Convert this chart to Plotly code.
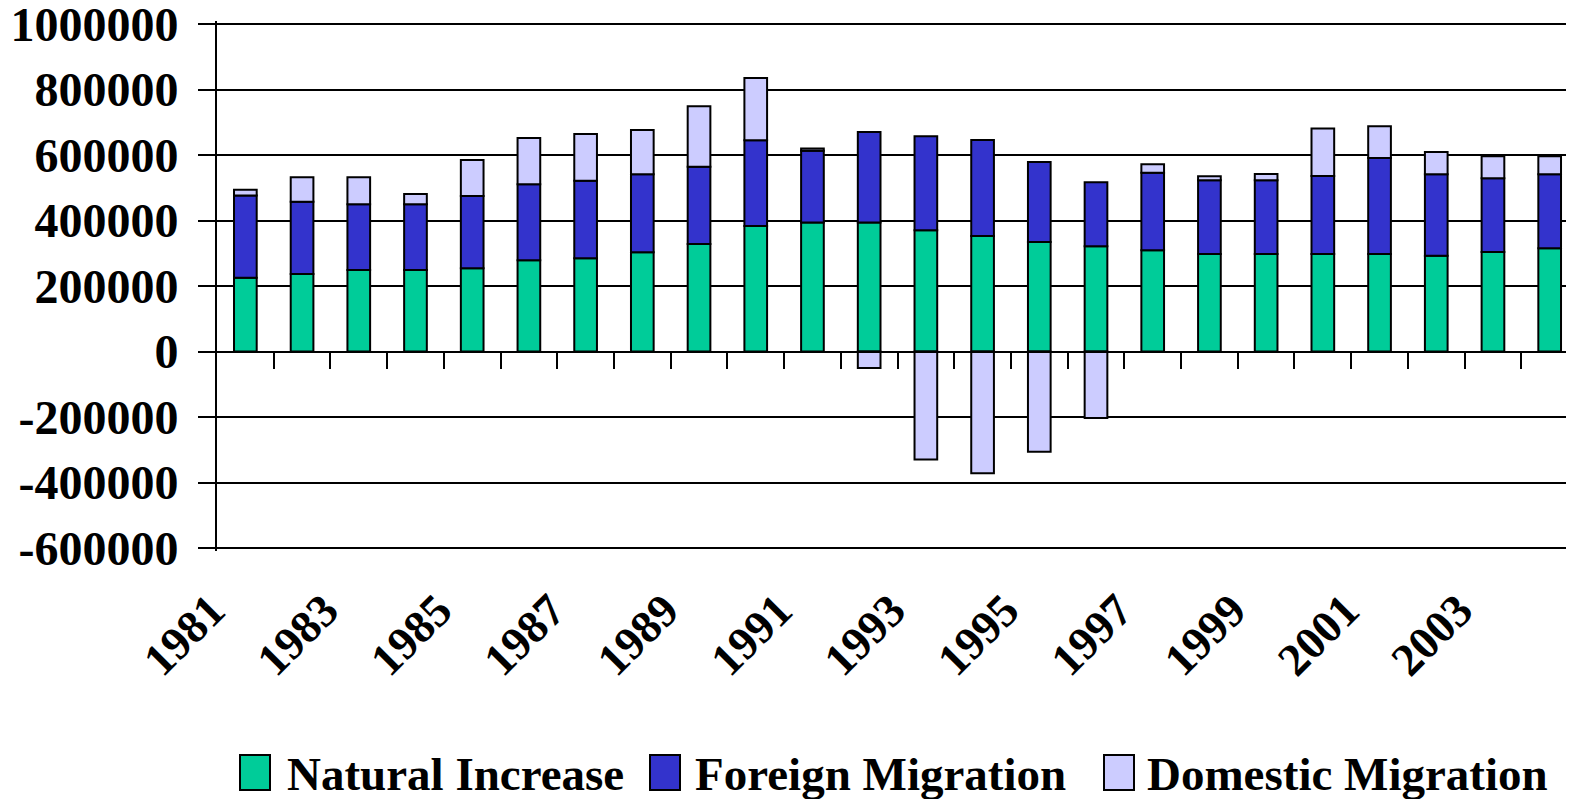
import plotly.graph_objects as go

years = [str(y) for y in range(1981, 2005)]
natural_increase = [225000, 237000, 249000, 249000, 254000, 279000, 285000, 303000,
                    328000, 383000, 394000, 394000, 370000, 353000, 334000, 321000,
                    309000, 298000, 298000, 298000, 298000, 292000, 304000, 315000]
foreign_migration = [251000, 220000, 201000, 201000, 221000, 232000, 236000, 238000,
                     236000, 262000, 219000, 276000, 287000, 293000, 245000, 196000,
                     237000, 225000, 225000, 238000, 293000, 249000, 225000, 226000]
domestic_migration = [18000, 75000, 82000, 31000, 110000, 141000, 143000, 135000,
                      185000, 190000, 7000, -50000, -330000, -372000, -306000, -203000,
                      26000, 12000, 19000, 145000, 97000, 68000, 67000, 55000]
series_names = ["Natural Increase", "Foreign Migration", "Domestic Migration"]
series_colors = ["#00CC99", "#3333CC", "#CCCCFF"]
y_ticks = [1000000, 800000, 600000, 400000, 200000, 0, -200000, -400000, -600000]
x_label_years = years[::2]

W, H = 1574, 799
OFF = 8  # page body margin offset
ML, MR, MT, MB = 209, 0, 13, 256
PW, PH = W - ML - MR, H - MT - MB

def px_x(screen):
    return (screen - OFF - ML) / PW

def px_y(screen):
    return (H - MB - (screen - OFF)) / PH

FONT = "Liberation Serif"

fig = go.Figure()
for name, vals, col in zip(series_names, [natural_increase, foreign_migration, domestic_migration], series_colors):
    fig.add_trace(go.Bar(x=years, y=vals, name=name, marker=dict(color=col, line=dict(color="black", width=2)),
                         showlegend=False))

# helper invisible trace for the zero-line tick axis
fig.add_trace(go.Scatter(x=[0], y=[0], xaxis="x2", yaxis="y", mode="markers",
                         marker=dict(opacity=0), showlegend=False, hoverinfo="skip"))

xr = [-0.5, 23.57]
pad = 1600000 * 3 / 524
yr = [-600000 - pad, 1000000 + pad]
zero_frac = (0 - yr[0]) / (yr[1] - yr[0])
fig.update_layout(
    template="none",
    width=W, height=H,
    margin=dict(l=ML, r=MR, t=MT, b=MB, autoexpand=False),
    paper_bgcolor="white", plot_bgcolor="white",
    barmode="relative", bargap=0.6,
    xaxis=dict(type="category", categoryorder="array", categoryarray=years, range=xr,
               tickmode="array", tickvals=x_label_years, ticktext=x_label_years,
               tickangle=-45, showgrid=False, showline=False, ticks="", zeroline=False,
               automargin=False, ticklabelstandoff=22, ticklabelshift=-34,
               ticklabeloverflow="allow",
               tickfont=dict(family=FONT, size=46, color="black", weight="bold")),
    xaxis2=dict(overlaying="x", anchor="free", position=zero_frac, range=xr,
                tickmode="array", tickvals=[i + 0.5 for i in range(24)],
                ticks="outside", ticklen=16, tickwidth=2, tickcolor="black",
                showticklabels=False, showgrid=False, showline=True, linecolor="black", linewidth=2,
                zeroline=False, automargin=False),
    yaxis=dict(range=yr, tickmode="array", tickvals=y_ticks,
               ticktext=[str(v) for v in y_ticks],
               showgrid=True, gridcolor="black", gridwidth=2,
               zeroline=True, zerolinecolor="black", zerolinewidth=2,
               showline=True, linecolor="black", linewidth=2,
               ticks="outside", ticklen=17, tickwidth=2, tickcolor="black",
               ticklabelstandoff=10, automargin=False, ticklabeloverflow="allow",
               tickfont=dict(family=FONT, size=48, color="black", weight="bold")),
)

# manual legend with large square swatches (screen-pixel positions)
legend_items = [(240, 285), (650, 693), (1104, 1145)]
for (sx, tx), name, col in zip(legend_items, series_names, series_colors):
    fig.add_shape(type="rect", xref="paper", yref="paper",
                  x0=px_x(sx), x1=px_x(sx + 30), y0=px_y(755), y1=px_y(790),
                  fillcolor=col, line=dict(color="black", width=2))
    fig.add_annotation(xref="paper", yref="paper", x=px_x(tx), y=px_y(774),
                       xanchor="left", yanchor="middle", showarrow=False, text=name,
                       font=dict(family=FONT, size=47, color="black", weight="bold"))

fig.write_html("out.html")
